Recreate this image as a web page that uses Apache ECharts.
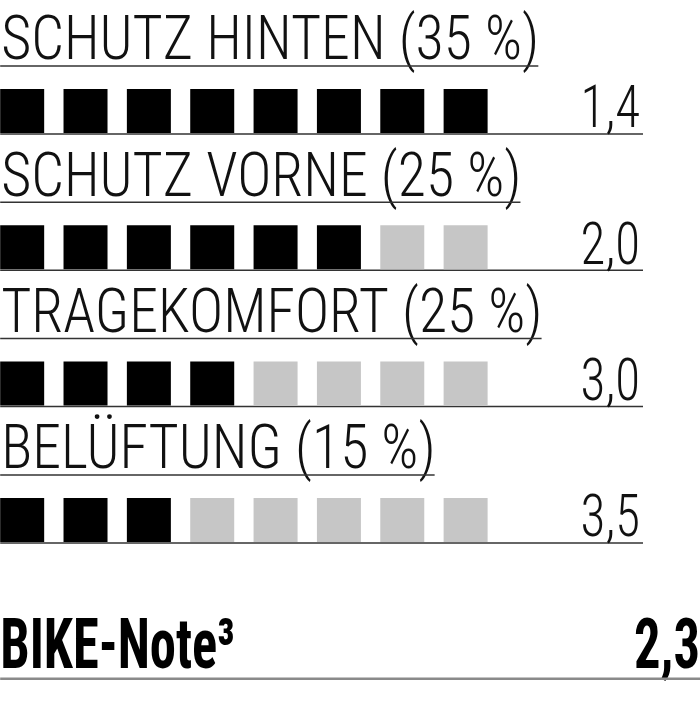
<!DOCTYPE html>
<html>
<head>
<meta charset="utf-8">
<script src="https://cdn.jsdelivr.net/npm/echarts@6/dist/echarts.min.js"></script>
<style>
html,body{margin:0;padding:0;background:#fff;}
#chart{width:700px;height:720px;}
</style>
</head>
<body>
<div id="chart"></div>
<script>
// ---- data ----
const categories = ['SCHUTZ HINTEN (35 %)', 'SCHUTZ VORNE (25 %)', 'TRAGEKOMFORT (25 %)', 'BELÜFTUNG (15 %)'];
const grades = [1.4, 2.0, 3.0, 3.5];
const filledSquares = [8, 6, 4, 3];
const totalSquares = 8;
const overallLabel = 'BIKE-Note³';
const overallGrade = 2.3;

// ---- styles ----
const FONT = '"Roboto Condensed", "Liberation Sans Narrow", "DejaVu Sans Condensed", sans-serif';
const TITLE_SIZE = 62, TITLE_SCALE = 0.935, TITLE_WEIGHT = '300';
const VALUE_SIZE = 60, VALUE_SCALE = 0.85, VALUE_WEIGHT = '300';
const TOTAL_SIZE = 71, TOTAL_SCALE = 0.74, TOTAL_WEIGHT = 'bold';
const SQ = 44;

const measureCtx = document.createElement('canvas').getContext('2d');
function fontStr(weight, size) { return 'normal ' + weight + ' ' + size + 'px ' + FONT; }
function textWidth(t, weight, size) {
  measureCtx.font = fontStr(weight, size);
  return measureCtx.measureText(t).width;
}
const fmt = v => v.toFixed(1).replace('.', ',');

const squareData = [];
categories.forEach((c, r) => {
  for (let i = 0; i < totalSquares; i++) {
    squareData.push([i, r, i < filledSquares[r] ? 1 : 0]);
  }
});
const rowData = categories.map((c, r) => [0, r]);

const chart = echarts.init(document.getElementById('chart'), null, {renderer: 'canvas'});
chart.setOption({
  animation: false,
  backgroundColor: '#ffffff',
  grid: {left: 0, right: 57, top: 0, bottom: 0},
  xAxis: {type: 'value', min: -0.35, max: 9.8, show: false},
  yAxis: {type: 'value', min: -0.814, max: 4.468, inverse: true, show: false},
  series: [
    {
      type: 'scatter',
      symbol: 'rect',
      symbolSize: SQ,
      data: squareData,
      itemStyle: {
        opacity: 1,
        color: p => p.data[2] ? '#000000' : '#c6c6c6'
      },
      silent: true,
      z: 3
    },
    {
      type: 'custom',
      data: rowData,
      silent: true,
      z: 2,
      renderItem: (params, api) => {
        const r = api.value(1);
        const c = api.coord([0, r]);
        const cs = params.coordSys;
        const left = c[0] - SQ / 2;
        const right = cs.x + cs.width;
        const title = categories[r];
        const tw = textWidth(title, TITLE_WEIGHT, TITLE_SIZE) * TITLE_SCALE;
        return {
          type: 'group',
          children: [
            {
              type: 'text',
              x: left + 1, y: c[1] - 67,
              scaleX: TITLE_SCALE,
              style: {
                text: title, fill: '#111', font: fontStr(TITLE_WEIGHT, TITLE_SIZE),
                align: 'left', verticalAlign: 'middle'
              }
            },
            {
              type: 'line',
              shape: {x1: left, y1: c[1] - 45, x2: left + tw, y2: c[1] - 45},
              style: {stroke: '#333', lineWidth: 1.5}
            },
            {
              type: 'line',
              shape: {x1: left, y1: c[1] + 23, x2: right, y2: c[1] + 23},
              style: {stroke: '#333', lineWidth: 1.5}
            },
            {
              type: 'text',
              x: right - 3, y: c[1] + 1.5,
              scaleX: VALUE_SCALE,
              style: {
                text: fmt(grades[r]), fill: '#111', font: fontStr(VALUE_WEIGHT, VALUE_SIZE),
                align: 'right', verticalAlign: 'middle'
              }
            }
          ]
        };
      }
    },
    {
      type: 'custom',
      data: [[0, categories.length]],
      silent: true,
      z: 2,
      renderItem: (params, api) => {
        const r = api.value(1);
        const c = api.coord([0, r]);
        const left = c[0] - SQ / 2;
        const W = api.getWidth();
        return {
          type: 'group',
          children: [
            {
              type: 'text',
              x: left, y: c[1] - 6,
              scaleX: TOTAL_SCALE,
              style: {
                text: overallLabel, fill: '#000', font: fontStr(TOTAL_WEIGHT, TOTAL_SIZE),
                align: 'left', verticalAlign: 'middle'
              }
            },
            {
              type: 'text',
              x: W, y: c[1] - 6,
              scaleX: TOTAL_SCALE,
              style: {
                text: fmt(overallGrade), fill: '#000', font: fontStr(TOTAL_WEIGHT, TOTAL_SIZE),
                align: 'right', verticalAlign: 'middle'
              }
            },
            {
              type: 'line',
              shape: {x1: left, y1: c[1] + 22.5, x2: W, y2: c[1] + 22.5},
              style: {stroke: '#8a8a8a', lineWidth: 2.5}
            }
          ]
        };
      }
    }
  ]
});
</script>
</body>
</html>
